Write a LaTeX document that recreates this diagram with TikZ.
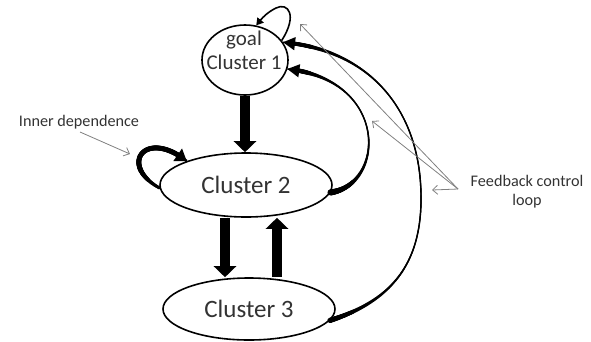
\documentclass[tikz,border=0pt]{standalone}
\usepackage{fontspec}
\setmainfont{Carlito}
\usetikzlibrary{shapes.geometric,arrows.meta,decorations.markings}
\begin{document}
\begin{tikzpicture}[x=1pt,y=-1pt,
  cluster/.style={ellipse, draw, line width=1.6pt, inner sep=0pt},
  bigarrow/.style={line width=10pt, -{Triangle[width=22pt,length=11pt]}},
  curvearrow/.style={line width=1.4pt},
  taper/.style={postaction={decorate, decoration={markings,
     mark=between positions 0 and -10pt step 0.5pt with {%
       \pgfmathsetmacro\tpfrac{\pgfkeysvalueof{/pgf/decoration/mark info/distance from start}/\pgfdecoratedpathlength}%
       \pgfmathsetmacro\tphalf{#1}%
       \fill (0,0) circle[radius=\tphalf pt];}}}},
  headat/.style={postaction={decorate, decoration={markings,
     mark=at position -11pt with {\coordinate (#1);}}}},
  headtip/.style={line width=1.4pt, -{Triangle[#1]}},
  pointer/.style={draw=black!50, line width=0.8pt, -{Straight Barb[length=5pt,width=9pt]}},
  lbl/.style={font=\fontsize{16.2}{19}\selectfont, text=black!80, align=center, inner sep=0pt}
]
\useasboundingbox (0,0) rectangle (591,341);

\node[cluster, minimum width=86pt, minimum height=70pt] (c1) at (245,60) {};
\node[font=\fontsize{21}{24}\selectfont, text=black!80, align=center, inner sep=0pt] (c1t) at (244,50) {goal\\Cluster 1};
\node[cluster, minimum width=172pt, minimum height=64pt, font=\fontsize{25}{28}\selectfont, text=black!80] (c2) at (246,185) {Cluster 2};
\node[cluster, minimum width=172pt, minimum height=62pt, font=\fontsize{25}{28}\selectfont, text=black!80] (c3) at (249,309) {Cluster 3};

% straight thick arrows
\draw[bigarrow] (c1.south) -- (c1.south |- c2.north);
\draw[bigarrow] ([xshift=-21pt]c2.south) -- ([xshift=-24pt]c3.north);
\draw[bigarrow] ([xshift=28pt]c3.north) -- ([xshift=31pt]c2.south);

% self loop on cluster 1
\draw[line width=1.6pt, -{Triangle[width=8pt,length=7pt]}] (c1.28) .. controls (298,15) and (288,2) .. (276,8) .. controls (268,12) and (263,17) .. (c1.72);

% inner dependence loop on cluster 2
\draw[line width=2.6pt, taper={\tpfrac<0.3 ? 1.5+1.0*\tpfrac/0.3 : 2.5}, headat=h0] (c2.182) .. controls (118,165) and (145,128) .. (c2.158);
\draw[headtip={width=15pt,length=11pt}] (h0) -- (c2.158);

% feedback from cluster 2 to cluster 1
\draw[curvearrow, taper={\tpfrac<0.5 ? 0.7+2.4*(1-\tpfrac/0.5)^2 : 0.7+1.5*(min(1,(\tpfrac-0.5)/0.4))^2}, headat=h1] (c2.-5) .. controls (385,185) and (390,80) .. (c1.-12);
\draw[headtip={width=13pt,length=12pt}] (h1) -- (c1.-12);

% feedback from cluster 3 to cluster 1
\draw[curvearrow, taper={\tpfrac<0.35 ? 0.7+1.9*(1-\tpfrac/0.35)^2 : (\tpfrac>0.62 ? 0.7+1.3*(min(1,(\tpfrac-0.62)/0.3))^2 : 0.7)}, headat=h2] (c3.-8) .. controls (395,300) and (422,260) .. (421,195) .. controls (420,110) and (370,50) .. (c1.25);
\draw[headtip={width=13pt,length=12pt}] (h2) -- (c1.25);

% labels
\node[lbl] (fb) at (527,192) {Feedback control\\loop};
\node[lbl] (inner) at (79,122) {Inner dependence};

\coordinate (fbo) at (458,189);
\coordinate (t1) at (300,24);
\coordinate (t2) at (372,121);
\coordinate (t3) at (432,190);
\coordinate (io) at (80,132);
\coordinate (it) at (130,154);
\draw[pointer] (fbo) -- (t1);
\draw[pointer] (fbo) -- (t2);
\draw[pointer] (fbo) -- (t3);
\draw[pointer] (io) -- (it);
\end{tikzpicture}
\end{document}
